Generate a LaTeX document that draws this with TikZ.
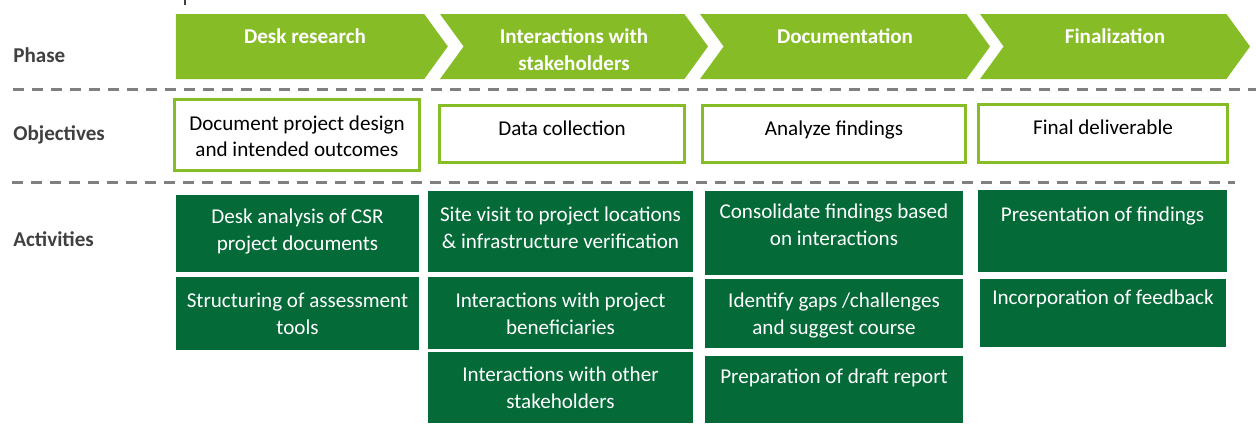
\documentclass[tikz,border=0pt]{standalone}
\usepackage{fontspec}
\setmainfont{Carlito}
\usetikzlibrary{positioning,shapes.symbols}

\definecolor{lightgreen}{HTML}{86BC25}
\definecolor{darkgreen}{HTML}{046A38}
\definecolor{labelgray}{HTML}{404040}
\definecolor{linegray}{HTML}{808080}

\begin{document}
\begin{tikzpicture}[x=0.2mm, y=-0.2mm, font=\fontsize{12}{15.3}\selectfont,
    phase/.style = {signal, signal to=east, signal pointer angle=108, fill=lightgreen, minimum height=13mm, inner sep=0, outer sep=0},
    phasetext/.style = {text=white, font=\fontsize{12}{15.3}\selectfont\bfseries, align=center, inner sep=0},
    obj/.style = {rectangle, draw=lightgreen, line width=0.6mm, fill=white, inner sep=0},
    objtext/.style = {align=center, inner sep=0},
    act/.style = {rectangle, fill=darkgreen, inner sep=0},
    acttext/.style = {text=white, align=center, inner sep=0},
    rowlabel/.style = {text=labelgray, font=\fontsize{12}{15.3}\selectfont\bfseries, anchor=west, inner sep=0},
    rowline/.style = {linegray, line width=0.6mm, dash pattern=on 2.2mm off 1.6mm}]

            \useasboundingbox (0,0) rectangle (1256,423);
            \draw[labelgray, line width=0.3mm] (185,0) -- (185,5);

            %row labels

            \node[rowlabel] (PHASE) at (13,55) {Phase};
            \node[rowlabel] (OBJECTIVES) at (13,135) {Objectives};
            \node[rowlabel] (ACTIVITIES) at (13,239) {Activities};
            \draw[rowline] (13,89) -- (1256,89);
            \draw[rowline] (12,182) -- (1235,182);

            %phase chevrons

            \node[phase, minimum width=54.4mm] (PH1) at (300,46.5) {};
            \node[phase, signal from=west, minimum width=53.6mm] (PH2) at (574,46.5) {};
            \node[phase, signal from=west, minimum width=58mm] (PH3) at (845,46.5) {};
            \node[phase, signal from=west, minimum width=54mm] (PH4) at (1115,46.5) {};
            \node[phasetext] (PH1T) [below=2.8mm of PH1.north, xshift=1mm] {Desk research};
            \node[phasetext] (PH2T) [below=2.8mm of PH2.north] {Interactions with\\stakeholders};
            \node[phasetext] (PH3T) [below=2.8mm of PH3.north] {Documentation};
            \node[phasetext] (PH4T) [below=2.8mm of PH4.north] {Finalization};

            %objectives

            \node[obj, minimum width=49mm, minimum height=14.2mm] (OBJ1) at (297,135) {};
            \node[obj, minimum width=49mm, minimum height=11.4mm] (OBJ2) at (562,134) {};
            \node[obj, minimum width=52.6mm, minimum height=11.4mm] (OBJ3) at (834,134) {};
            \node[obj, minimum width=49.8mm, minimum height=11.6mm] (OBJ4) at (1103,133.5) {};
            \node[objtext] (OBJ1T) [below=3.4mm of OBJ1.north] {Document project design\\and intended outcomes};
            \node[objtext] (OBJ2T) [below=3.3mm of OBJ2.north] {Data collection};
            \node[objtext] (OBJ3T) [below=3.3mm of OBJ3.north] {Analyze findings};
            \node[objtext] (OBJ4T) [below=3.4mm of OBJ4.north] {Final deliverable};

            %activities, one column per phase

            \node[act, minimum width=48.6mm, minimum height=15.4mm] (ACT11) at (297.5,233.5) {};
            \node[act, minimum width=48.6mm, minimum height=14.6mm] (ACT12) at (297.5,313.5) {};
            \node[acttext] (ACT11T) [below=2.8mm of ACT11.north] {Desk analysis of CSR\\project documents};
            \node[acttext] (ACT12T) [below=3.2mm of ACT12.north] {Structuring of assessment\\tools};

            \node[act, minimum width=53mm, minimum height=16.2mm] (ACT21) at (560.5,231.5) {};
            \node[act, minimum width=53mm, minimum height=14.4mm] (ACT22) at (560.5,313) {};
            \node[act, minimum width=53mm, minimum height=14.2mm] (ACT23) at (560.5,387.5) {};
            \node[acttext] (ACT21T) [below=3.2mm of ACT21.north] {Site visit to project locations\\\& infrastructure verification};
            \node[acttext] (ACT22T) [below=3.2mm of ACT22.north] {Interactions with project\\beneficiaries};
            \node[acttext] (ACT23T) [below=3mm of ACT23.north] {Interactions with other\\stakeholders};

            \node[act, minimum width=51.6mm, minimum height=16.8mm] (ACT31) at (834,233) {};
            \node[act, minimum width=51.6mm, minimum height=13.8mm] (ACT32) at (834,313.5) {};
            \node[act, minimum width=51.6mm, minimum height=13.4mm] (ACT33) at (834,389.5) {};
            \node[acttext] (ACT31T) [below=2.6mm of ACT31.north] {Consolidate findings based\\on interactions};
            \node[acttext] (ACT32T) [below=2.8mm of ACT32.north] {Identify gaps /challenges\\and suggest course};
            \node[acttext] (ACT33T) [below=2.6mm of ACT33.north] {Preparation of draft report};

            \node[act, minimum width=49.8mm, minimum height=16.4mm] (ACT41) at (1102.5,231) {};
            \node[act, minimum width=49.2mm, minimum height=13.6mm] (ACT42) at (1103,313) {};
            \node[acttext] (ACT41T) [below=3.4mm of ACT41.north] {Presentation of findings};
            \node[acttext] (ACT42T) [below=2.2mm of ACT42.north] {Incorporation of feedback};
\end{tikzpicture}
\end{document}
